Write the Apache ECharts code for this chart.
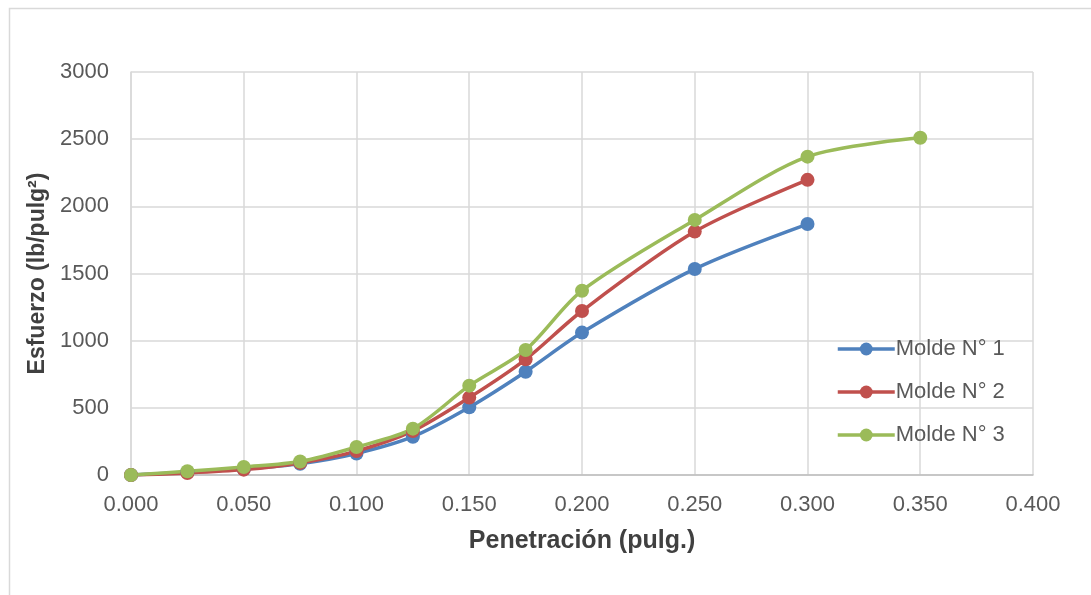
<!DOCTYPE html>
<html>
<head>
<meta charset="utf-8">
<script src="https://cdn.jsdelivr.net/npm/echarts@6/dist/echarts.min.js"></script>
<style>
  html, body { margin: 0; padding: 0; background: #fff; }
  #chart { width: 1091px; height: 595px; }
</style>
</head>
<body>
<div id="chart"></div>
<script>
// Penetration (inches) and stress (lb/pulg²) for each mould
const penetracion = [0, 0.025, 0.05, 0.075, 0.1, 0.125, 0.15, 0.175, 0.2, 0.25, 0.3, 0.35];
const molde1 = [0, 20, 45, 84, 160, 285, 504, 769, 1060, 1534, 1868];
const molde2 = [0, 15, 40, 90, 178, 328, 576, 861, 1221, 1812, 2197];
const molde3 = [0, 28, 60, 100, 208, 345, 665, 931, 1372, 1899, 2370, 2510];
const seriesNames = ['Molde N° 1', 'Molde N° 2', 'Molde N° 3'];
const colors = ['#4F81BD', '#C0504D', '#9BBB59'];

function pairs(ys) {
  return ys.map((y, i) => [penetracion[i], y]);
}

const font = '"Liberation Sans", Arial, sans-serif';
const chart = echarts.init(document.getElementById('chart'));

chart.setOption({
  animation: false,
  textStyle: { fontFamily: font },
  graphic: [{
    type: 'rect',
    shape: { x: 9.5, y: 8.5, width: 1200, height: 700 },
    style: { fill: 'none', stroke: '#d9d9d9', lineWidth: 1.5 },
    silent: true
  }],
  grid: { left: 131, right: 58, top: 72, bottom: 120 },
  legend: {
    orient: 'vertical',
    left: 831,
    top: 333,
    itemWidth: 57,
    itemHeight: 16,
    itemGap: 21,
    lineStyle: { width: 3.5 },
    textStyle: { fontSize: 22, color: '#595959', fontFamily: font, padding: [0, 0, 0, -4] },
    data: seriesNames
  },
  xAxis: {
    type: 'value',
    min: 0,
    max: 0.4,
    interval: 0.05,
    name: 'Penetración (pulg.)',
    nameLocation: 'middle',
    nameGap: 54,
    nameTextStyle: { fontSize: 25, fontWeight: 'bold', color: '#404040', fontFamily: font },
    axisLine: { show: true, lineStyle: { color: '#bfbfbf', width: 1.5 } },
    axisTick: { show: false },
    axisLabel: { fontSize: 22, color: '#595959', margin: 19, formatter: v => v.toFixed(3) },
    splitLine: { show: true, lineStyle: { color: '#d9d9d9', width: 1.5 } }
  },
  yAxis: {
    type: 'value',
    min: 0,
    max: 3000,
    interval: 500,
    name: 'Esfuerzo (lb/pulg²)',
    nameLocation: 'middle',
    nameRotate: 90,
    nameGap: 80,
    nameTextStyle: { fontSize: 23, fontWeight: 'bold', color: '#404040', fontFamily: font },
    axisLine: { show: true, lineStyle: { color: '#d9d9d9', width: 1.5 } },
    axisTick: { show: false },
    axisLabel: { fontSize: 22, color: '#595959', margin: 22, formatter: v => String(v) },
    splitLine: { show: true, lineStyle: { color: '#d9d9d9', width: 1.5 } }
  },
  series: [molde1, molde2, molde3].map((ys, i) => ({
    name: seriesNames[i],
    type: 'line',
    data: pairs(ys),
    smooth: 0.3,
    symbol: 'circle',
    symbolSize: 14,
    color: colors[i],
    lineStyle: { width: 3.5, color: colors[i] },
    itemStyle: { color: colors[i] }
  }))
});
</script>
</body>
</html>
